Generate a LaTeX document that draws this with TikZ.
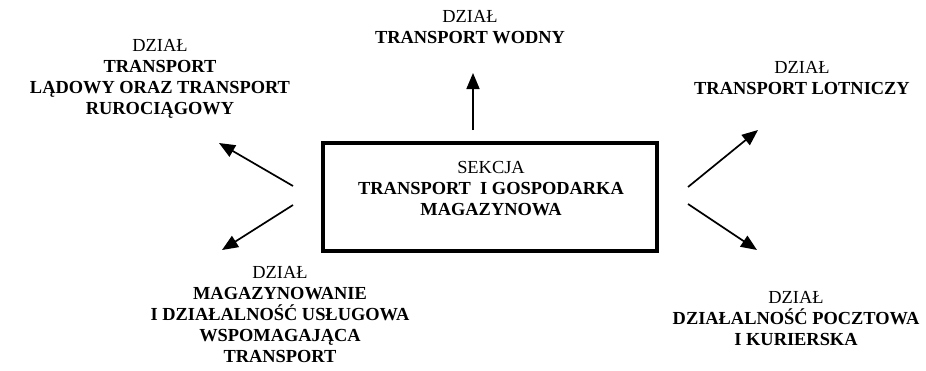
\documentclass[tikz,border=0pt]{standalone}
\usepackage{fontspec}
\setmainfont{Liberation Serif}
\usetikzlibrary{arrows.meta}
\begin{document}
\begin{tikzpicture}[x=1pt,y=-1pt,
  lbl/.style={anchor=north,inner sep=0pt,align=center,
    font=\fontsize{18.4}{21}\selectfont},
  arr/.style={line width=1.7pt,-{Triangle[length=16pt,width=13pt]}},
  secbox/.style={draw,line width=4pt,minimum width=334pt,minimum height=108pt,inner sep=0pt}]
\useasboundingbox (0,0) rectangle (926,370);
\node[secbox] (box) at (490,197) {};
\node[lbl] (sek) at (491,161) {SEKCJA\\\textbf{TRANSPORT\ \ I GOSPODARKA}\\\textbf{MAGAZYNOWA}};
\node[lbl] (tl) at (160,39) {DZIAŁ\\\textbf{TRANSPORT}\\\textbf{LĄDOWY ORAZ TRANSPORT}\\\textbf{RUROCIĄGOWY}};
\node[lbl] (tm) at (470,10) {DZIAŁ\\\textbf{TRANSPORT WODNY}};
\node[lbl] (tr) at (802,61) {DZIAŁ\\\textbf{TRANSPORT LOTNICZY}};
\node[lbl] (bl) at (280,266) {DZIAŁ\\\textbf{MAGAZYNOWANIE}\\\textbf{I DZIAŁALNOŚĆ USŁUGOWA}\\\textbf{WSPOMAGAJĄCA}\\\textbf{TRANSPORT}};
\node[lbl] (br) at (796,291) {DZIAŁ\\\textbf{DZIAŁALNOŚĆ POCZTOWA}\\\textbf{I KURIERSKA}};
\coordinate (sU) at (473,130); \coordinate (eU) at (473,73);
\coordinate (sUL) at (293,186); \coordinate (eUL) at (219,143);
\coordinate (sLL) at (293,205); \coordinate (eLL) at (222,250);
\coordinate (sUR) at (688,187); \coordinate (eUR) at (758,130);
\coordinate (sLR) at (688,204); \coordinate (eLR) at (757,250);
\draw[arr] (sU) -- (eU);
\draw[arr] (sUL) -- (eUL);
\draw[arr] (sLL) -- (eLL);
\draw[arr] (sUR) -- (eUR);
\draw[arr] (sLR) -- (eLR);
\end{tikzpicture}
\end{document}
